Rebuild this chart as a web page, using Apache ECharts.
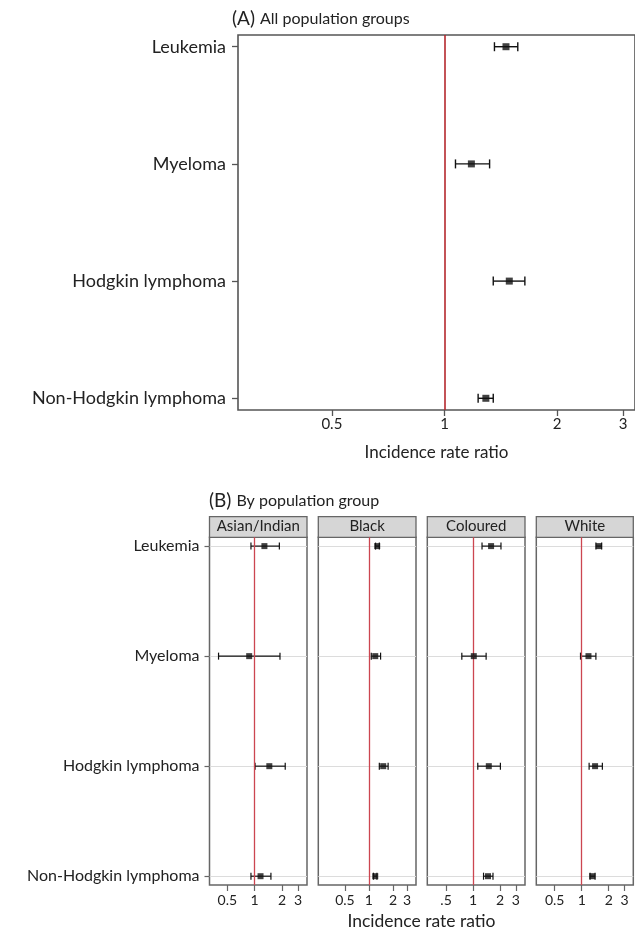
<!DOCTYPE html>
<html>
<head>
<meta charset="utf-8">
<script src="https://cdn.jsdelivr.net/npm/echarts@6/dist/echarts.min.js"></script>
<style>
html,body{margin:0;padding:0;background:#fff;}
#chart{width:635px;height:934px;}
</style>
</head>
<body>
<div id="chart"></div>
<script>
var cancers = ['Leukemia', 'Myeloma', 'Hodgkin lymphoma', 'Non-Hodgkin lymphoma'];

// (A) all population groups : incidence rate ratio + 95% CI
var allIRR  = [1.46, 1.18, 1.49, 1.29];
var allLow  = [1.36, 1.07, 1.35, 1.23];
var allHigh = [1.57, 1.32, 1.64, 1.35];

// (B) by population group
var groups = ['Asian/Indian', 'Black', 'Coloured', 'White'];
var asianIRR  = [1.28, 0.87, 1.45, 1.16];
var asianLow  = [0.91, 0.40, 1.01, 0.91];
var asianHigh = [1.87, 1.90, 2.17, 1.51];
var blackIRR  = [1.27, 1.20, 1.51, 1.20];
var blackLow  = [1.21, 1.07, 1.35, 1.14];
var blackHigh = [1.35, 1.40, 1.74, 1.26];
var colouredIRR  = [1.59, 1.02, 1.50, 1.47];
var colouredLow  = [1.26, 0.75, 1.13, 1.31];
var colouredHigh = [2.05, 1.40, 2.02, 1.67];
var whiteIRR  = [1.56, 1.19, 1.41, 1.31];
var whiteLow  = [1.44, 0.97, 1.21, 1.24];
var whiteHigh = [1.67, 1.44, 1.70, 1.41];

// x axis ticks
var tickValues = [0.5, 1, 2, 3];
var tickLabelsA = ['0.5', '1', '2', '3'];
var tickLabelsB = [
	['0.5', '1', '2', '3'],
	['0.5', '1', '2', '3'],
	['.5', '1', '2', '3'],
	['0.5', '1', '2', '3']
];

var FONT = 'Lato';
var chart = echarts.init(document.getElementById('chart'));

function lg(v){
	return Math.log(v) / Math.LN2;
}

function tickFormatter(labels){
	return function(v){
		for (var i = 0; i < tickValues.length; i++) {
			if (Math.abs(lg(tickValues[i]) - v) < 1e-6) return labels[i];
		}
		return '';
	};
}

// horizontal CI line with end caps
function errRender(cap, width){
	return function(params, api){
		var lo = api.coord([api.value(0), api.value(2)]);
		var hi = api.coord([api.value(1), api.value(2)]);
		var st = {stroke: '#111', lineWidth: width};
		return {
			type: 'group',
			children: [
				{type: 'line', shape: {x1: lo[0], y1: lo[1], x2: hi[0], y2: hi[1]}, style: st},
				{type: 'line', shape: {x1: lo[0], y1: lo[1] - cap, x2: lo[0], y2: lo[1] + cap}, style: st},
				{type: 'line', shape: {x1: hi[0], y1: hi[1] - cap, x2: hi[0], y2: hi[1] + cap}, style: st}
			]
		};
	};
}

function ciData(low, high){
	var d = [];
	for (var i = 0; i < low.length; i++) d.push([lg(low[i]), lg(high[i]), i + 1]);
	return d;
}
function pointData(irr){
	var d = [];
	for (var i = 0; i < irr.length; i++) d.push([lg(irr[i]), i + 1]);
	return d;
}

var grids = [], xAxes = [], yAxes = [], series = [];

// ---- panel A ----
grids.push({left: 238, top: 35, width: 402, height: 375, show: true,
	borderColor: '#555', borderWidth: 1.6, backgroundColor: 'transparent'});
xAxes.push({
	type: 'value', gridIndex: 0, min: lg(0.2806), max: lg(3.23),
	axisLine: {show: false, onZero: false}, splitLine: {show: false},
	axisTick: {show: true, length: 6, customValues: tickValues.map(lg), lineStyle: {color: '#555', width: 1.3}},
	axisLabel: {customValues: tickValues.map(lg), formatter: tickFormatter(tickLabelsA), margin: 7,
		fontFamily: FONT, fontSize: 15, color: '#222'},
	name: 'Incidence rate ratio', nameLocation: 'middle', nameGap: 34,
	nameTextStyle: {fontFamily: FONT, fontSize: 17, color: '#222'}
});
yAxes.push({
	type: 'value', gridIndex: 0, inverse: true, min: 0.9, max: 4.1,
	axisLine: {show: false, onZero: false}, splitLine: {show: false},
	axisTick: {show: true, length: 6, customValues: [1, 2, 3, 4], lineStyle: {color: '#555', width: 1.3}},
	axisLabel: {customValues: [1, 2, 3, 4], margin: 12, fontFamily: FONT, fontSize: 18, color: '#222',
		formatter: function(v){ return cancers[Math.round(v) - 1]; }}
});
series.push({
	type: 'scatter', xAxisIndex: 0, yAxisIndex: 0, data: pointData(allIRR),
	symbol: 'rect', symbolSize: 7, itemStyle: {color: '#111'}, z: 5,
	markLine: {silent: true, symbol: 'none', label: {show: false},
		lineStyle: {color: '#b5272d', width: 1.6, type: 'solid'}, data: [{xAxis: 0}]}
});
series.push({
	type: 'custom', xAxisIndex: 0, yAxisIndex: 0, data: ciData(allLow, allHigh),
	renderItem: errRender(4.5, 1.4), z: 4
});

// ---- panel B ----
var facetLeft  = [209.5, 318.3, 427.3, 536.3];
var facetWidth = [97.5, 97.7, 97.7, 97];
var facetMin   = [0.318, 0.232, 0.309, 0.312];
var facetMax   = [3.77, 3.89, 3.80, 3.76];
var groupIRR  = [asianIRR, blackIRR, colouredIRR, whiteIRR];
var groupLow  = [asianLow, blackLow, colouredLow, whiteLow];
var groupHigh = [asianHigh, blackHigh, colouredHigh, whiteHigh];
var topB = 537.3, heightB = 347.7;
var graphics = [];

for (var g = 0; g < 4; g++) {
	var gi = g + 1;
	grids.push({left: facetLeft[g], top: topB, width: facetWidth[g], height: heightB, show: true,
		borderColor: '#666', borderWidth: 1.5, backgroundColor: 'transparent'});
	xAxes.push({
		type: 'value', gridIndex: gi, min: lg(facetMin[g]), max: lg(facetMax[g]),
		axisLine: {show: false, onZero: false}, splitLine: {show: false},
		axisTick: {show: true, length: 6, customValues: tickValues.map(lg), lineStyle: {color: '#666', width: 1.2}},
		axisLabel: {customValues: tickValues.map(lg), formatter: tickFormatter(tickLabelsB[g]), margin: 8,
			fontFamily: FONT, fontSize: 14, color: '#222'}
	});
	yAxes.push({
		type: 'value', gridIndex: gi, inverse: true, min: 0.92, max: 4.08,
		axisLine: {show: false, onZero: false},
		splitLine: {show: true, lineStyle: {color: '#dcdcdc', width: 1}},
		axisTick: {show: g === 0, length: 5, customValues: [1, 2, 3, 4], lineStyle: {color: '#666', width: 1.2}},
		axisLabel: {show: g === 0, customValues: [1, 2, 3, 4], margin: 10, fontFamily: FONT, fontSize: 16, color: '#222',
			formatter: function(v){ return cancers[Math.round(v) - 1]; }}
	});
	series.push({
		type: 'scatter', xAxisIndex: gi, yAxisIndex: gi, data: pointData(groupIRR[g]),
		symbol: 'rect', symbolSize: 6, itemStyle: {color: '#111'}, z: 5,
		markLine: {silent: true, symbol: 'none', label: {show: false},
			lineStyle: {color: '#cc4650', width: 1.3, type: 'solid'}, data: [{xAxis: 0}]}
	});
	series.push({
		type: 'custom', xAxisIndex: gi, yAxisIndex: gi, data: ciData(groupLow[g], groupHigh[g]),
		renderItem: errRender(3.5, 1.2), z: 4
	});
	// strip header
	graphics.push({type: 'rect', shape: {x: facetLeft[g], y: 516.7, width: facetWidth[g], height: 20.6},
		style: {fill: '#d6d6d6', stroke: '#666', lineWidth: 1.3}});
	graphics.push({type: 'text', x: facetLeft[g] + facetWidth[g] / 2, y: 526,
		style: {text: groups[g], fill: '#222', font: '15px ' + FONT, textAlign: 'center', textVerticalAlign: 'middle'}});
}

graphics.push({type: 'text', x: 421.5, y: 921,
	style: {text: 'Incidence rate ratio', fill: '#222', font: '17.5px ' + FONT, textAlign: 'center', textVerticalAlign: 'middle'}});

var option = {
	animation: false,
	backgroundColor: '#fff',
	title: [{
		text: '{a|(A)} {b|All population groups}', left: 232, top: 9, padding: 0,
		textStyle: {rich: {
			a: {fontFamily: FONT, fontSize: 19, fontWeight: 'normal', color: '#222'},
			b: {fontFamily: FONT, fontSize: 16, fontWeight: 'normal', color: '#222'}
		}}
	}, {
		text: '{a|(B)} {b|By population group}', left: 209, top: 491, padding: 0,
		textStyle: {rich: {
			a: {fontFamily: FONT, fontSize: 19, fontWeight: 'normal', color: '#222'},
			b: {fontFamily: FONT, fontSize: 16, fontWeight: 'normal', color: '#222'}
		}}
	}],
	grid: grids,
	xAxis: xAxes,
	yAxis: yAxes,
	series: series,
	graphic: graphics
};
chart.setOption(option);
</script>
</body>
</html>
